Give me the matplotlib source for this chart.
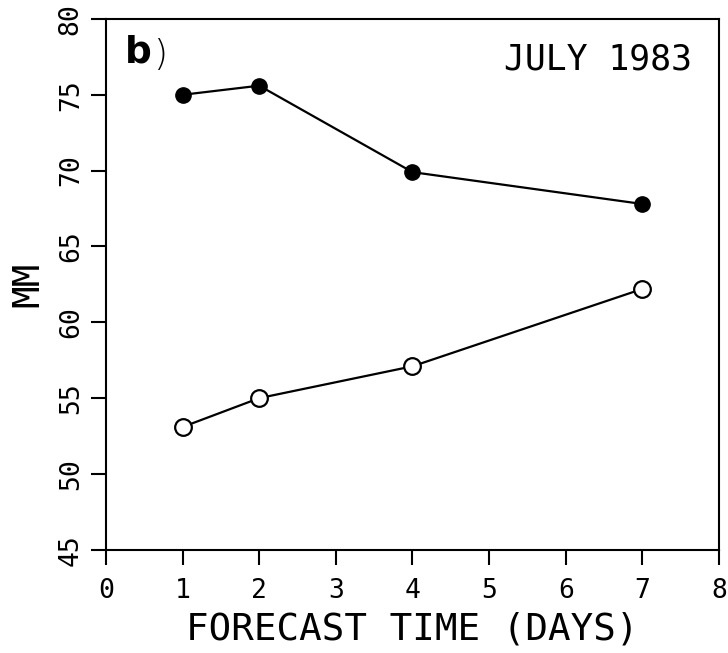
import matplotlib
matplotlib.use("Agg")
import matplotlib.pyplot as plt

# forecast day and skill (mm) for the two curves
days = [1, 2, 4, 7]
filled_mm = [75.0, 75.6, 69.9, 67.8]
open_mm = [53.1, 55.0, 57.1, 62.2]

x_ticks = [0, 1, 2, 3, 4, 5, 6, 7, 8]
y_ticks = [45, 50, 55, 60, 65, 70, 75, 80]

mono = "DejaVu Sans Mono"

fig = plt.figure(figsize=(7.28, 6.53), dpi=100)
ax = fig.add_axes([0.1456, 0.158, 0.842, 0.813])

ax.plot(days, filled_mm, color="black", lw=1.6, marker="o", ms=11,
        mfc="black", mec="black", zorder=3)
ax.plot(days, open_mm, color="black", lw=1.6, marker="o", ms=12,
        mfc="white", mec="black", mew=1.6, zorder=3)

ax.set_xlim(0, 8)
ax.set_ylim(45, 80)
ax.set_xticks(x_ticks)
ax.set_yticks(y_ticks)
ax.set_xticklabels([str(t) for t in x_ticks], family=mono, fontsize=19)
ax.set_yticklabels([str(t) for t in y_ticks], family=mono, fontsize=19,
                   rotation=90, va="center")
ax.tick_params(direction="out", length=11, width=1.5)
ax.tick_params(axis="x", pad=9)
ax.tick_params(axis="y", pad=5)
for s in ax.spines.values():
    s.set_linewidth(1.5)

ax.set_xlabel("FORECAST TIME (DAYS)", family=mono, fontsize=27, labelpad=6)
ax.set_ylabel("MM", family=mono, fontsize=27, labelpad=8)

ax.text(0.955, 0.955, "JULY 1983", transform=ax.transAxes, ha="right",
        va="top", family=mono, fontsize=25)
ax.text(0.03, 0.97, "b", transform=ax.transAxes, ha="left", va="top",
        family="DejaVu Sans", fontweight="bold", fontsize=27)
ax.text(0.077, 0.965, ")", transform=ax.transAxes, ha="left", va="top",
        family="DejaVu Sans", fontweight="light", fontsize=26)

fig.savefig("out.png", dpi=100)
